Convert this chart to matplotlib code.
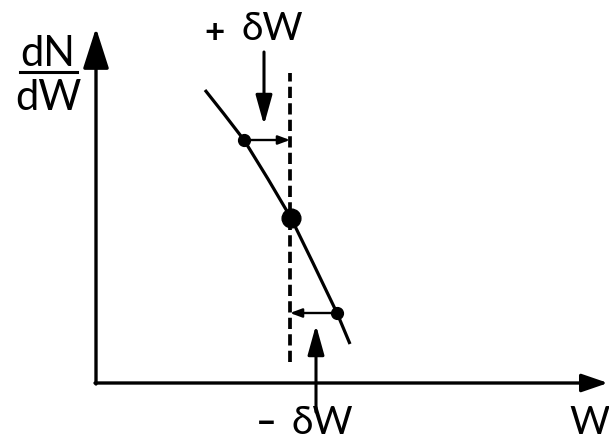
import matplotlib
matplotlib.use("Agg")
import matplotlib.pyplot as plt

# distribution curve dN/dW vs W (schematic, axis origin at 0,0)
curve_w = [109, 128, 148, 172, 195, 217, 241, 254]
curve_n = [293, 269, 243, 204, 165, 120, 70, 39]
dot_index = [2, 4, 6]          # small, central, small
w_cut = 194                     # dashed threshold
cut_range = [21, 310]

plt.rcParams['font.family'] = ['Lato', 'DejaVu Sans']

fig = plt.figure(figsize=(6.09, 4.43), dpi=100)
ax = fig.add_axes([0, 0, 1, 1])
ax.set_xlim(-96, 513)
ax.set_ylim(-60, 383)
ax.axis('off')


def arrow(ax, start, end, lw, hl, hw, scale=1):
    ax.annotate('', xy=end, xytext=start, annotation_clip=False,
                arrowprops=dict(arrowstyle=f'-|>,head_length={hl},head_width={hw}',
                                color='black', lw=lw, shrinkA=0, shrinkB=0,
                                mutation_scale=scale))


# axes
arrow(ax, (0, -1), (0, 355), 2.4, 25, 8)
arrow(ax, (-1, 0), (512, 0), 2.4, 16, 5.5)

# curve, threshold and points
ax.plot(curve_w, curve_n, color='black', lw=2.3, solid_capstyle='butt')
ax.plot([w_cut, w_cut], cut_range, color='black', lw=2.7, ls=(0, (3, 1.4)))
i0, i1, i2 = dot_index
ax.plot(curve_w[i0], curve_n[i0], 'o', color='black', ms=8.5)
ax.plot(curve_w[i1], curve_n[i1], 'o', color='black', ms=13.5)
ax.plot(curve_w[i2], curve_n[i2], 'o', color='black', ms=8.5)

# shifts towards the threshold
arrow(ax, (curve_w[i0], curve_n[i0]), (w_cut, curve_n[i0]), 1.7, 7, 2.6)
arrow(ax, (curve_w[i2], curve_n[i2]), (w_cut, curve_n[i2]), 1.7, 7, 2.6)

# labelled pointers
arrow(ax, (168, 331), (168, 258), 2.2, 18, 5)
arrow(ax, (220, -29), (220, 58), 2.2, 18, 5)

ax.text(119, 350, '+', fontsize=25, fontweight='bold', ha='center', va='center')
ax.text(176, 354, 'δW', fontsize=28, ha='center', va='center')
ax.text(170, -40, '–', fontsize=26, fontweight='bold', ha='center', va='center')
ax.text(226, -40, 'δW', fontsize=28, ha='center', va='center')
ax.text(494, -40, 'W', fontsize=28, ha='center', va='center')

# dN/dW label
ax.text(-48, 329, 'dN', fontsize=30, ha='center', va='center')
ax.plot([-76, -19], [311, 311], color='black', lw=2.2)
ax.text(-48, 285, 'dW', fontsize=30, ha='center', va='center')

fig.savefig('out.png', dpi=100)
